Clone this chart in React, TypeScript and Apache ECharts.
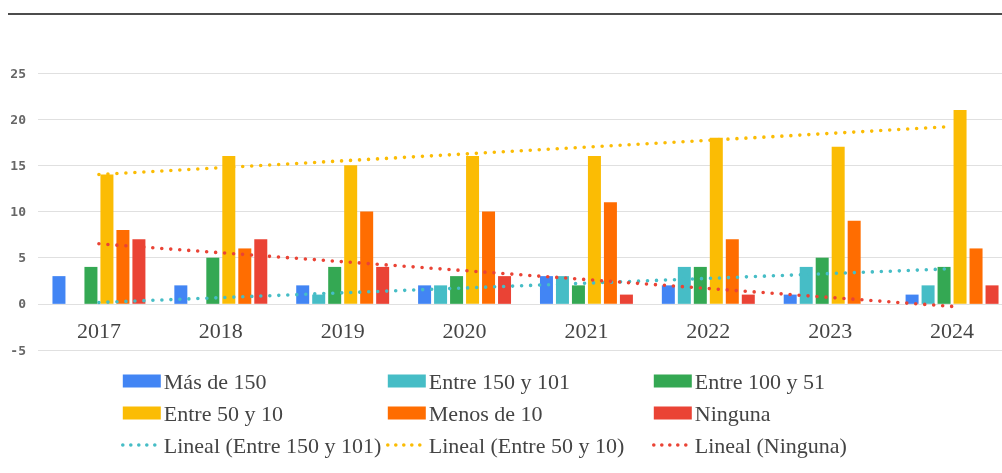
import React, { useEffect, useRef } from "react";
import * as echarts from "echarts";

const years = ["2017", "2018", "2019", "2020", "2021", "2022", "2023", "2024"];
const masDe150 = [3, 2, 2, 2, 3, 2, 1, 1];
const entre150y101 = [0, 0, 1, 2, 3, 4, 4, 2];
const entre100y51 = [4, 5, 4, 3, 2, 4, 5, 4];
const entre50y10 = [14, 16, 15, 16, 16, 18, 17, 21];
const menosDe10 = [8, 6, 10, 10, 11, 7, 9, 6];
const ninguna = [7, 7, 4, 3, 1, 1, 0, 2];
// trend lines: values read at first and last category
const trend150y101 = [0.15, null, null, null, null, null, null, 3.8];
const trend50y10 = [14.0, null, null, null, null, null, null, 19.2];
const trendNinguna = [6.5, null, null, null, null, null, null, -0.28];
const yTicks = { min: -5, max: 25, interval: 5 };

const colors = {
  blue: "#4285F4",
  teal: "#46BDC6",
  green: "#34A853",
  yellow: "#FBBC04",
  orange: "#FF6D01",
  red: "#EA4335",
};

export default function App() {
  const ref = useRef<HTMLDivElement>(null);
  useEffect(() => {
    if (!ref.current) return;
    const chart = echarts.init(ref.current, undefined, { renderer: "svg" });
    const bar = (name: string, data: number[], color: string) => ({
      name,
      type: "bar",
      data,
      barWidth: 13,
      barGap: "23%",
      itemStyle: { color },
      z: 2,
    });
    const trend = (name: string, data: (number | null)[], color: string) => ({
      name,
      type: "line",
      data,
      connectNulls: true,
      symbol: "none",
      showSymbol: false,
      lineStyle: { color, width: 3.6, type: [0, 9], cap: "round" },
      itemStyle: { color },
      z: 5,
    });
    const hidden = { color: "rgba(0,0,0,0)", borderColor: "rgba(0,0,0,0)", borderWidth: 0, opacity: 0 };
    const legendBase = {
      orient: "vertical",
      top: 370,
      padding: 0,
      itemGap: 10,
      itemWidth: 38,
      itemHeight: 13,
      textStyle: {
        fontFamily: "Liberation Serif",
        fontSize: 22,
        color: "#444",
        padding: [0, 0, 0, -2],
      },
      lineStyle: { width: 3.6, type: [0, 8], cap: "round" },
    };
    chart.setOption({
      animation: false,
      grid: { left: 38, right: 0, top: 73, bottom: 123 },
      xAxis: {
        type: "category",
        data: years,
        offset: -46,
        axisLine: { show: false },
        axisTick: { show: false },
        axisLabel: {
          fontFamily: "Liberation Serif",
          fontSize: 22,
          color: "#444",
          margin: 15,
        },
      },
      yAxis: {
        type: "value",
        min: yTicks.min,
        max: yTicks.max,
        interval: yTicks.interval,
        axisLine: { show: false },
        axisTick: { show: false },
        splitLine: { lineStyle: { color: "#e0e0e0", width: 1 } },
        axisLabel: {
          fontFamily: "DejaVu Sans Mono",
          fontSize: 13,
          fontWeight: "bold",
          color: "#666",
          margin: 12,
        },
      },
      legend: [
        {
          ...legendBase,
          left: 121,
          data: [
            { name: "Más de 150", icon: "rect" },
            { name: "Entre 50 y 10", icon: "rect" },
            { name: "Lineal (Entre 150 y 101)", itemStyle: hidden },
          ],
        },
        {
          ...legendBase,
          left: 386,
          data: [
            { name: "Entre 150 y 101", icon: "rect" },
            { name: "Menos de 10", icon: "rect" },
            { name: "Lineal (Entre 50 y 10)", itemStyle: hidden },
          ],
        },
        {
          ...legendBase,
          left: 652,
          data: [
            { name: "Entre 100 y 51", icon: "rect" },
            { name: "Ninguna", icon: "rect" },
            { name: "Lineal (Ninguna)", itemStyle: hidden },
          ],
        },
      ],
      graphic: [
        {
          type: "line",
          shape: { x1: 8, y1: 14, x2: 1002, y2: 14 },
          style: { stroke: "#111", lineWidth: 1.5 },
        },
      ],
      series: [
        bar("Más de 150", masDe150, colors.blue),
        bar("Entre 150 y 101", entre150y101, colors.teal),
        bar("Entre 100 y 51", entre100y51, colors.green),
        bar("Entre 50 y 10", entre50y10, colors.yellow),
        bar("Menos de 10", menosDe10, colors.orange),
        bar("Ninguna", ninguna, colors.red),
        trend("Lineal (Entre 150 y 101)", trend150y101, colors.teal),
        trend("Lineal (Entre 50 y 10)", trend50y10, colors.yellow),
        trend("Lineal (Ninguna)", trendNinguna, colors.red),
      ],
    });
    return () => chart.dispose();
  }, []);
  return (
    <div
      style={{
        position: "fixed",
        left: 0,
        top: 0,
        width: 1002,
        height: 473,
        overflow: "hidden",
      }}
    >
      <div ref={ref} style={{ width: 1013, height: 473 }} />
    </div>
  );
}
